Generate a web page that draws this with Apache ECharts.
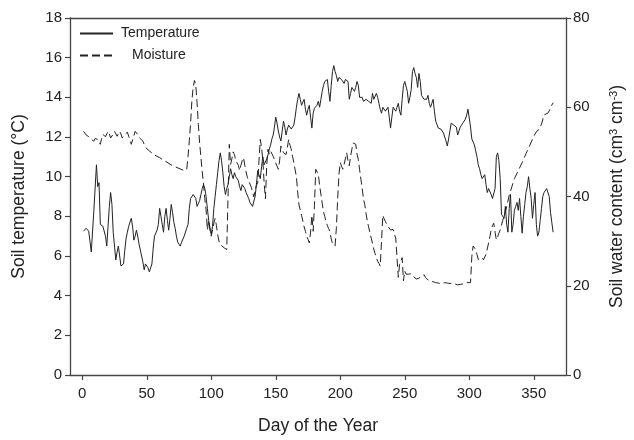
<!DOCTYPE html>
<html>
<head>
<meta charset="utf-8">
<script src="https://cdn.jsdelivr.net/npm/echarts@6/dist/echarts.min.js"></script>
<style>
  html, body { margin: 0; padding: 0; background: #fff; }
  #chart { width: 634px; height: 440px; }
</style>
</head>
<body>
<div id="chart"></div>
<script>
// Daily soil temperature (°C) at the site, by day of year
const tempDays = [
  1,3,5,6,7,9,11,12,13,14,16,18,19,20,21,22,23,24,25,26,27,28,29,30,31,32,33,34,35,36,37,38,39,40,
  41,42,43,44,45,46,47,48,49,50,51,52,53,54,55,56,57,58,59,60,61,62,63,64,65,66,67,68,69,70,
  71,72,73,74,75,76,77,78,79,80,81,82,83,84,85,86,87,88,89,90,91,92,93,94,95,96,97,98,99,100,
  101,102,103,104,105,106,107,108,109,110,111,112,113,114,115,116,117,118,119,120,
  121,122,123,124,125,126,127,128,129,130,131,132,133,134,135,136,137,138,139,140,
  141,142,143,144,145,146,147,148,149,150,151,152,153,154,155,156,157,158,159,160,
  161,162,163,164,165,166,167,168,169,170,171,172,173,174,175,176,177,178,179,180,
  181,182,183,184,185,186,187,188,189,190,191,192,193,194,195,196,197,198,199,200,
  201,202,203,204,205,206,207,208,209,210,211,212,213,214,215,216,217,218,219,220,
  221,222,223,224,225,226,227,228,229,230,231,232,233,234,235,236,237,238,239,240,
  241,242,243,244,245,246,247,248,249,250,251,252,253,254,255,256,257,258,259,260,
  261,262,263,264,265,266,267,268,269,270,271,272,273,274,275,276,277,278,279,280,
  281,282,283,284,285,286,287,288,289,290,291,292,293,294,295,296,297,298,299,300,
  301,302,303,304,305,306,307,308,309,310,311,312,313,314,315,316,317,318,319,320,
  321,322,323,324,325,326,327,328,329,330,331,332,333,334,335,336,337,338,339,340,
  341,342,343,344,345,346,347,348,349,350,351,352,353,354,355,356,357,358,359,360,
  361,362,363,364,365
];
const tempValues = [
  7.25,7.4,7.25,7.3,6.2,8.3,10.6,9.5,9.7,7.6,7.5,7.0,6.5,7.5,8.5,9.2,8.6,7.2,6.5,5.8,6.2,6.5,6.0,5.5,5.4,5.6,6.3,6.9,7.2,7.5,7.6,7.9,7.5,6.8,
  7.0,7.3,7.0,6.6,6.3,6.0,5.7,5.3,5.6,5.6,5.4,5.2,5.1,5.6,6.4,7.0,7.1,7.3,7.6,8.4,8.0,7.6,7.2,8.0,8.4,7.8,7.3,7.9,8.6,8.2,
  7.7,7.4,7.0,6.7,6.6,6.5,6.7,6.8,7.0,7.1,7.4,7.6,8.4,8.9,9.0,9.1,9.0,8.9,8.5,8.4,8.8,9.1,9.4,9.6,9.4,9.0,8.4,7.8,7.3,7.1,
  7.5,8.4,9.0,9.6,10.2,10.8,11.2,10.8,10.2,9.5,9.1,9.4,9.6,10.0,10.4,10.1,9.9,10.2,10.0,9.9,
  9.8,9.5,9.3,9.6,9.7,9.4,9.2,9.1,8.9,8.7,8.6,8.5,8.6,9.0,9.6,10.3,10.1,9.9,10.5,11.0,
  10.6,10.5,10.9,11.1,11.4,11.6,11.9,12.1,12.5,13.0,12.7,12.3,12.0,11.8,12.3,12.8,12.5,12.1,12.4,12.6,
  12.5,12.4,12.5,12.6,13.0,13.5,13.9,14.2,13.9,13.6,13.7,13.9,13.4,13.1,13.4,13.6,13.0,12.45,13.2,13.45,
  13.5,13.6,13.8,13.5,13.9,14.3,14.6,14.8,14.9,14.9,14.3,13.8,14.6,15.3,15.6,15.3,15.1,14.8,15.0,15.1,
  14.9,14.8,14.7,14.9,15.0,14.8,13.9,14.2,14.5,14.4,14.3,14.5,14.8,14.6,14.0,13.9,14.0,13.8,13.7,13.9,
  14.0,13.8,13.7,13.7,14.2,13.9,13.9,14.2,14.0,13.7,13.4,13.2,13.5,13.6,13.3,13.4,13.5,13.0,12.45,13.0,
  13.5,13.4,13.3,13.5,13.7,13.3,13.1,13.9,14.6,14.8,14.85,14.3,13.7,14.0,14.4,15.3,15.5,15.2,15.0,14.5,
  15.2,14.8,14.1,14.0,13.9,14.0,13.9,14.1,13.7,13.5,13.7,13.9,13.3,12.8,12.7,12.45,12.5,12.4,12.3,12.2,
  12.0,11.8,11.55,11.9,12.3,12.7,12.8,12.6,12.6,12.5,12.1,12.3,12.5,12.6,12.7,12.8,12.9,13.1,13.4,13.3,
  12.5,11.9,11.8,11.6,11.3,11.0,10.6,10.4,10.1,9.9,10.0,10.1,9.6,9.2,9.4,9.5,9.1,8.9,8.8,9.4,
  11.0,11.2,10.8,9.9,8.1,8.0,7.9,8.5,7.6,7.2,8.4,9.1,7.2,7.6,8.3,8.5,8.7,8.3,8.9,8.0,
  7.15,8.0,8.6,9.2,9.5,10.0,9.4,8.9,7.9,8.6,9.2,7.6,7.0,7.2,7.8,8.4,9.0,9.2,9.3,9.4,
  9.3,9.0,8.2,7.7,7.2
];

// Soil water content (cm3 cm-3) over the same year
const moistDays = [
  1,2,3,5,7,9,10,12,14,15,16,18,20,21,22,24,25,27,29,30,31,33,35,36,38,40,41,42,43,45,47,49,52,56,60,65,70,75,79,81,
  82,83,84,85,86,87,88,89,90,91,92,93,94,95,96,97,98,99,100,101,102,103,104,105,106,107,108,110,112,113,
  114,115,116,117,118,119,120,121,122,123,124,125,126,127,128,129,130,131,132,133,134,135,136,137,138,139,140,141,142,
  143,144,145,146,147,148,149,150,151,152,153,154,155,156,157,158,159,160,161,162,163,164,165,166,167,168,169,170,
  171,172,173,174,175,176,177,178,179,180,181,182,183,184,185,186,187,188,189,190,191,192,193,194,195,196,197,198,199,200,
  201,202,203,204,205,206,207,208,209,210,211,212,213,214,215,216,217,218,219,220,221,222,223,224,225,226,227,228,229,230,
  231,232,233,234,235,236,237,238,239,240,241,242,243,244,245,246,247,248,249,250,251,252,253,254,255,256,257,258,259,260,
  261,262,263,264,265,266,267,268,269,270,272,274,276,278,279,281,283,285,287,289,291,292,293,295,297,299,301,
  302,303,304,305,306,307,308,310,311,312,313,315,316,317,318,319,320,321,322,323,324,325,326,328,331,335,338,341,344,347,350,
  352,354,356,358,359,361,362,363,364,365
];
const moistValues = [
  54.6,54.2,53.8,53.4,52.8,52.4,53.0,52.8,51.7,53.0,53.9,53.4,54.6,54.0,53.1,54.0,54.6,53.5,54.6,54.0,53.1,53.9,54.4,53.5,51.7,53.6,54.6,54.3,53.9,53.0,52.4,51.0,50.2,49.3,48.7,47.8,46.9,46.3,45.8,46.1,
  49.0,52.5,56.5,61.5,64.5,66.0,65.0,61.0,56.1,52.0,48.7,45.5,42.8,39.5,37.0,32.5,34.7,33.0,31.1,32.5,34.0,35.1,33.5,31.4,30.0,29.2,28.9,28.5,28.1,27.7,
  51.7,47.2,48.5,50.0,49.4,48.0,47.5,47.0,45.8,47.0,48.0,48.7,47.0,45.5,44.3,43.5,42.8,42.1,41.0,39.9,41.5,42.5,43.0,48.0,52.8,51.0,48.0,43.0,39.5,
  47.0,50.6,49.5,50.2,49.8,49.0,48.3,47.5,46.8,46.1,48.0,51.3,50.5,49.8,49.5,49.4,51.0,52.8,51.5,50.6,49.0,47.6,46.0,44.5,41.0,38.1,37.0,35.8,
  34.5,33.2,32.2,31.1,30.4,29.6,32.0,35.8,32.2,38.0,46.1,46.5,45.0,42.5,40.5,38.5,36.6,35.5,34.4,33.5,32.8,32.2,30.5,29.5,29.2,28.9,33.0,39.5,45.0,47.6,
  46.8,46.1,47.2,47.6,49.8,48.0,46.9,49.0,50.6,52.0,51.8,51.7,49.5,48.3,46.0,43.9,41.8,39.5,38.2,36.2,34.4,33.2,31.8,30.7,29.5,28.2,27.2,26.3,25.5,25.0,
  24.4,30.0,35.8,35.0,34.4,33.8,33.3,32.9,32.5,32.2,32.6,31.5,30.7,26.3,21.9,24.8,25.5,26.3,21.1,23.3,22.6,22.8,22.6,22.8,22.7,22.3,22.0,21.8,21.5,21.5,
  21.7,21.9,22.1,22.1,22.5,21.9,21.5,21.3,21.1,21.0,20.9,20.7,20.6,20.4,20.5,20.7,20.6,20.5,20.6,20.4,20.2,20.2,20.3,20.4,20.7,20.7,20.7,
  26.6,28.9,28.5,28.1,27.0,25.9,26.3,26.3,25.8,25.5,27.0,29.6,31.0,32.5,33.5,34.0,32.0,30.3,31.0,31.8,32.5,33.6,34.7,36.4,40.3,44.0,45.8,47.6,49.6,51.5,53.5,
  54.5,55.0,56.2,58.3,58.0,58.7,59.2,59.5,60.5,61.0
];

// Axis ticks
const dayTicks = [0, 50, 100, 150, 200, 250, 300, 350];

const tempData = tempDays.map((d, i) => [d, tempValues[i]]);
const moistData = moistDays.map((d, i) => [d, moistValues[i]]);

const FONT = '"Liberation Sans", Arial, Helvetica, sans-serif';
const INK = '#222';
const AXIS = '#444';

const chart = echarts.init(document.getElementById('chart'), null, { renderer: 'canvas' });

const axisLineStyle = { show: true, onZero: false, lineStyle: { color: AXIS, width: 1.3 } };

chart.setOption({
  animation: false,
  backgroundColor: '#fff',
  textStyle: { fontFamily: FONT },
  grid: { left: 70, right: 62, top: 18, bottom: 59, containLabel: false },
  legend: {
    orient: 'vertical',
    left: 79, top: 26.5,
    padding: 0,
    itemWidth: 33, itemHeight: 14, itemGap: 8,
    itemStyle: { color: 'rgba(0,0,0,0)', borderColor: 'rgba(0,0,0,0)', borderWidth: 0 },
    textStyle: { fontFamily: FONT, fontSize: 14, color: INK },
    data: [
      { name: 'Temperature', textStyle: { padding: [0, 0, 0, 3] } },
      { name: 'Moisture', textStyle: { padding: [0, 0, 0, 14] } }
    ]
  },
  xAxis: [
    {
      type: 'value',
      position: 'bottom',
      min: -9.5, max: 375,
      name: 'Day of the Year',
      nameLocation: 'middle',
      nameGap: 42,
      nameTextStyle: { fontFamily: FONT, fontSize: 17.5, color: INK },
      axisLine: axisLineStyle,
      axisTick: { show: true, length: 5, inside: false, customValues: dayTicks, lineStyle: { color: AXIS, width: 1.2 } },
      axisLabel: { customValues: dayTicks, fontFamily: FONT, fontSize: 15, color: INK, margin: 11 },
      splitLine: { show: false }
    },
    {
      type: 'value',
      position: 'top',
      min: -9.5, max: 375,
      axisLine: axisLineStyle,
      axisTick: { show: false },
      axisLabel: { show: false },
      splitLine: { show: false }
    }
  ],
  yAxis: [
    {
      type: 'value',
      position: 'left',
      min: 0, max: 18, interval: 2,
      name: 'Soil temperature (°C)',
      nameLocation: 'middle',
      nameRotate: 90,
      nameGap: 42,
      nameTextStyle: { fontFamily: FONT, fontSize: 17.5, color: INK },
      axisLine: axisLineStyle,
      axisTick: { show: true, length: 5, lineStyle: { color: AXIS, width: 1.2 } },
      axisLabel: { fontFamily: FONT, fontSize: 15, color: INK, margin: 8 },
      splitLine: { show: false }
    },
    {
      type: 'value',
      position: 'right',
      min: 0, max: 80, interval: 20,
      name: 'Soil water content (cm{sup|3} cm{sup|-3})',
      nameLocation: 'middle',
      nameRotate: 90,
      nameGap: 42,
      nameTextStyle: {
        fontFamily: FONT, fontSize: 17.5, color: INK,
        rich: {
          sup: { fontFamily: FONT, fontSize: 11, color: INK, verticalAlign: 'top', padding: [0, 0, 6, 0] }
        }
      },
      axisLine: axisLineStyle,
      axisTick: { show: true, length: 5, lineStyle: { color: AXIS, width: 1.2 } },
      axisLabel: { fontFamily: FONT, fontSize: 15, color: INK, margin: 7 },
      splitLine: { show: false }
    }
  ],
  series: [
    {
      name: 'Temperature',
      type: 'line',
      xAxisIndex: 0,
      yAxisIndex: 0,
      data: tempData,
      showSymbol: false,
      symbol: 'none',
      color: INK,
      lineStyle: { color: INK, width: 1 },
      z: 3
    },
    {
      name: 'Moisture',
      type: 'line',
      xAxisIndex: 0,
      yAxisIndex: 1,
      data: moistData,
      showSymbol: false,
      symbol: 'none',
      color: INK,
      lineStyle: { color: INK, width: 1, type: [8, 4] },
      z: 2
    }
  ]
});
</script>
</body>
</html>
